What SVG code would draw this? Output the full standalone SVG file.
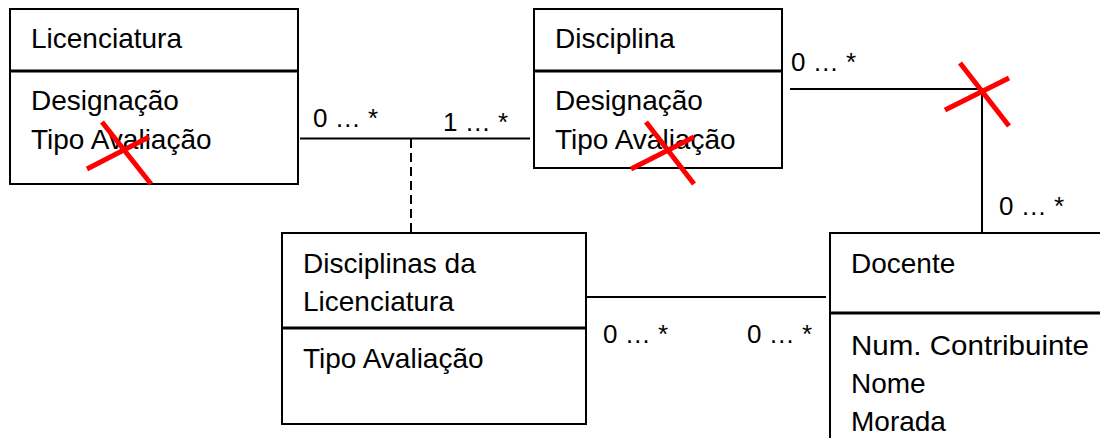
<svg xmlns="http://www.w3.org/2000/svg" width="1100" height="438" viewBox="0 0 1100 438">
<style>
.box{fill:#fff;stroke:#000;stroke-width:2}
.div{stroke:#000;stroke-width:3}
.t{font-family:"Liberation Sans",Arial,sans-serif;font-size:28px;fill:#000}
.m{font-family:"Liberation Sans",Arial,sans-serif;font-size:26px;fill:#000}
.c{stroke:#000;stroke-width:2;fill:none}
.x{stroke:#ff0000;stroke-width:5}
</style>
<rect width="1100" height="438" fill="#fff"/>
<g id="connectors">
<line class="c" x1="300" y1="138.5" x2="530" y2="138.5"/>
<line class="c" x1="411" y1="139" x2="411" y2="232" stroke-dasharray="9,5"/>
<polyline class="c" points="790,89 982,89 982,233"/>
<line class="c" x1="587" y1="297" x2="826" y2="297"/>
<text class="m" x="313" y="127">0 … *</text>
<text class="m" x="443" y="131">1 … *</text>
<text class="m" x="791" y="71">0 … *</text>
<text class="m" x="999" y="215">0 … *</text>
<text class="m" x="603" y="343">0 … *</text>
<text class="m" x="747" y="343">0 … *</text>
<line class="x" x1="960" y1="63" x2="1009" y2="126"/>
<line class="x" x1="945" y1="110" x2="1009" y2="78"/>
</g>
<g id="licenciatura">
<rect class="box" x="10" y="9" width="288" height="175"/>
<line class="div" x1="10" y1="71" x2="298" y2="71"/>
<text class="t" x="31" y="48">Licenciatura</text>
<text class="t" x="31" y="110">Designação</text>
<text class="t" x="31" y="149">Tipo Avaliação</text>
<line class="x" x1="102" y1="122" x2="151" y2="184"/>
<line class="x" x1="87" y1="169" x2="149" y2="137"/>
</g>
<g id="disciplina">
<rect class="box" x="534" y="9" width="248" height="159"/>
<line class="div" x1="534" y1="71" x2="782" y2="71"/>
<text class="t" x="555" y="48">Disciplina</text>
<text class="t" x="555" y="110">Designação</text>
<text class="t" x="555" y="149">Tipo Avaliação</text>
<line class="x" x1="646" y1="122" x2="694" y2="184"/>
<line class="x" x1="631" y1="169" x2="694" y2="137"/>
</g>
<g id="disciplinas-da-licenciatura">
<rect class="box" x="282" y="233" width="304" height="191"/>
<line class="div" x1="282" y1="328" x2="586" y2="328"/>
<text class="t" x="303" y="273">Disciplinas da</text>
<text class="t" x="303" y="311">Licenciatura</text>
<text class="t" x="303" y="368">Tipo Avaliação</text>
</g>
<g id="docente">
<rect class="box" x="830" y="233" width="290" height="230"/>
<line class="div" x1="830" y1="313" x2="1100" y2="313"/>
<text class="t" x="851" y="273">Docente</text>
<text class="t" x="851" y="355" textLength="238" lengthAdjust="spacingAndGlyphs">Num. Contribuinte</text>
<text class="t" x="851" y="393">Nome</text>
<text class="t" x="851" y="431">Morada</text>
</g>
</svg>
